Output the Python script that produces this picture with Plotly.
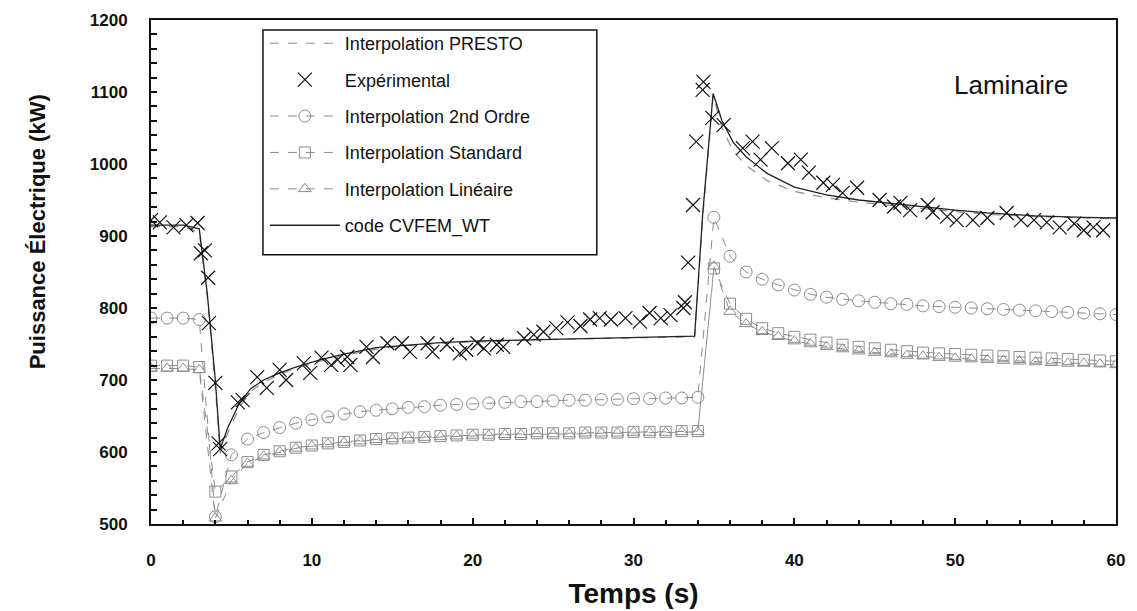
import plotly.graph_objects as go

# ---------------- data ----------------
t_sim = list(range(0, 61))

ordre2 = [786, 786, 786, 784, 510, 596, 618, 627, 634, 640, 645, 649, 653, 656, 658, 660,
          662, 663, 665, 666, 667, 668, 669, 670, 670, 671, 672, 672, 673, 673, 674, 674,
          675, 675, 676, 926, 872, 850, 840, 832, 825, 819, 815, 812, 810, 808, 806, 805,
          803, 802, 801, 800, 799, 798, 797, 796, 795, 794, 793, 792, 791]

standard = [720, 720, 720, 718, 545, 566, 586, 596, 601, 606, 609, 612, 614, 616, 618, 619,
            620, 621, 622, 623, 624, 624, 625, 625, 626, 626, 626, 627, 627, 627, 628, 628,
            628, 629, 629, 855, 806, 785, 772, 765, 760, 756, 752, 749, 746, 744, 742, 740,
            738, 737, 736, 735, 734, 733, 732, 731, 730, 729, 728, 727, 726]

lineaire = [716, 716, 716, 714, 508, 560, 584, 594, 600, 605, 608, 611, 613, 615, 617, 618,
            619, 620, 621, 622, 623, 623, 624, 624, 625, 625, 625, 626, 626, 626, 627, 627,
            627, 628, 628, 858, 795, 778, 767, 760, 754, 750, 746, 743, 740, 738, 736, 734,
            733, 731, 730, 729, 728, 727, 726, 725, 724, 723, 723, 722, 721]

t_code = [0, 1, 2, 3.0, 3.5, 4.0, 4.3, 4.8, 5.5, 6.2, 7.0, 8.0, 9.0, 10.5, 12, 14, 16, 18, 20,
          22, 24, 26, 28, 30, 32, 33.8, 34.3, 34.95, 35.5, 36.2, 37, 38.3, 40, 42, 44, 46, 48,
          50, 52, 55, 58, 60]
cvfem = [915, 915, 915, 910, 820, 700, 605, 635, 668, 688, 700, 710, 718, 728, 736, 745, 749,
         752, 754, 755, 756, 758, 759, 760, 760, 761, 930, 1098, 1060, 1030, 1010, 987, 968,
         957, 950, 945, 940, 936, 932, 928, 926, 925]
presto = [913, 913, 913, 905, 815, 690, 598, 628, 662, 684, 697, 708, 716, 726, 734, 743, 748,
          751, 753, 754, 756, 757, 758, 759, 759, 760, 925, 1095, 1050, 1018, 998, 977, 962,
          953, 947, 942, 938, 934, 930, 927, 925, 924]

exp_t = [0.0, 0.55, 1.4, 2.2, 2.9, 3.1, 3.35, 3.55, 3.6, 4.0, 4.2, 4.3, 5.4, 5.7, 6.6, 7.2,
         8.0, 8.4, 9.5, 9.9, 10.6, 11.2, 11.6, 12.2, 12.4, 13.4, 13.8, 14.7, 15.6, 16.1, 17.2,
         17.5, 18.4, 19.2, 19.6, 20.3, 20.7, 21.5, 21.9, 23.2, 23.8, 24.4, 25.2, 25.9, 26.7,
         27.3, 27.9, 28.6, 29.5, 30.4, 31.0, 31.7, 32.3, 33.1, 33.2, 33.4, 33.7, 33.9, 34.3,
         34.35, 34.9, 35.6, 36.8, 37.4, 37.9, 38.6, 39.6, 40.4, 40.9, 41.8, 42.4, 43.0, 43.9,
         45.3, 46.2, 46.6, 47.2, 48.3, 48.6, 49.5, 50.1, 51.1, 52.0, 53.2, 54.1, 54.9, 55.7,
         56.5, 57.4, 58.0, 58.6, 59.2]
exp_v = [922, 919, 912, 915, 918, 876, 880, 842, 779, 696, 612, 604, 669, 672, 704, 689,
         714, 700, 723, 710, 731, 721, 728, 732, 721, 746, 732, 751, 751, 739, 751,
         739, 749, 737, 742, 751, 744, 749, 746, 758, 763, 767, 772, 780, 775,
         784, 786, 784, 786, 781, 793, 786, 790, 800, 808, 863, 943, 1031, 1103,
         1114, 1064, 1054, 1022, 1031, 1006, 1022, 1001, 1006, 988, 974, 971, 960, 967,
         950, 941, 946, 936, 943, 933, 927, 922, 922, 925, 932, 922, 922, 919,
         912, 917, 908, 912, 908]

names = ["Interpolation PRESTO", "Expérimental", "Interpolation 2nd Ordre",
         "Interpolation Standard", "Interpolation Linéaire", "code CVFEM_WT"]

GRAY = "#8c8c8c"
FONT = "Liberation Sans, Arial, sans-serif"

fig = go.Figure()

fig.add_trace(go.Scatter(x=t_code, y=presto, mode="lines", name=names[0], legendrank=1,
                         legendgroup="a",
                         line=dict(color=GRAY, width=1.2, dash="dash")))
fig.add_trace(go.Scatter(x=t_sim, y=ordre2, mode="lines+markers", name=names[2], legendrank=3,
                         legendgroup="c",
                         line=dict(color=GRAY, width=1, dash="dash"),
                         marker=dict(symbol="circle-open", size=12, color=GRAY,
                                     line=dict(width=1, color=GRAY))))
fig.add_trace(go.Scatter(x=t_sim, y=standard, mode="lines+markers", name=names[3], legendrank=4,
                         legendgroup="d",
                         line=dict(color=GRAY, width=1, dash="dash"),
                         marker=dict(symbol="square-open", size=11, color=GRAY,
                                     line=dict(width=1, color=GRAY))))
fig.add_trace(go.Scatter(x=t_sim, y=lineaire, mode="lines+markers", name=names[4], legendrank=5,
                         legendgroup="e",
                         line=dict(color=GRAY, width=1, dash="dash"),
                         marker=dict(symbol="triangle-up-open", size=11, color=GRAY,
                                     line=dict(width=1, color=GRAY))))
fig.add_trace(go.Scatter(x=t_code, y=cvfem, mode="lines", name=names[5], legendrank=6,
                         legendgroup="f",
                         line=dict(color="#222222", width=1.3)))
fig.add_trace(go.Scatter(x=exp_t, y=exp_v, mode="markers", name=names[1], legendrank=2,
                         legendgroup="b",
                         marker=dict(symbol="x-thin-open", size=14, color="#111111",
                                     line=dict(width=1.2, color="#111111"))))

fig.add_annotation(x=53.5, y=1110, xref="x", yref="y", text="Laminaire", showarrow=False,
                   font=dict(family=FONT, size=26, color="#111111"))

fig.add_annotation(x=-0.118, y=0.579, xref="paper", yref="paper",
                   text="<b>Puissance Électrique (kW)</b>", textangle=-90, showarrow=False,
                   xanchor="center", yanchor="middle",
                   font=dict(family=FONT, size=22, color="#111111"))

# legend frame (white box with black border)
fig.add_shape(type="rect", xref="paper", yref="paper", layer="above",
              x0=0.116, x1=0.462, y0=0.534, y1=0.980,
              fillcolor="white", line=dict(color="#111111", width=1.5))

fig.update_layout(
    width=1137, height=611,
    margin=dict(l=151, r=21, t=20, b=87, autoexpand=False),
    paper_bgcolor="white", plot_bgcolor="white",
    font=dict(family=FONT, color="#111111"),
    showlegend=True,
    legend=dict(x=0.118, y=0.990, xanchor="left", yanchor="top",
                bgcolor="rgba(0,0,0,0)", borderwidth=0,
                font=dict(family=FONT, size=18, color="#111111"),
                tracegroupgap=10, itemwidth=70,
                traceorder="grouped"),
    xaxis=dict(range=[0, 60], dtick=10, tick0=0, showgrid=False, zeroline=False,
               automargin=False,
               showline=True, linecolor="#111111", linewidth=2, mirror=True,
               ticks="inside", ticklen=6, tickcolor="#111111", tickwidth=1.5,
               minor=dict(dtick=2, ticks="inside", ticklen=4, tickcolor="#111111"),
               tickfont=dict(family=FONT, size=17, color="#111111", weight="bold"),
               ticklabelstandoff=20,
               title=dict(text="<b>Temps (s)</b>", font=dict(family=FONT, size=28),
                          standoff=14)),
    yaxis=dict(range=[500, 1200], dtick=100, showgrid=False, zeroline=False,
               automargin=False,
               showline=True, linecolor="#111111", linewidth=2, mirror=True,
               ticks="inside", ticklen=6, tickcolor="#111111", tickwidth=1.5,
               minor=dict(dtick=20, ticks="inside", ticklen=6, tickcolor="#111111"),
               tickfont=dict(family=FONT, size=17, color="#111111", weight="bold"),
               ticklabelstandoff=18),
)

fig.write_html("out.html")
